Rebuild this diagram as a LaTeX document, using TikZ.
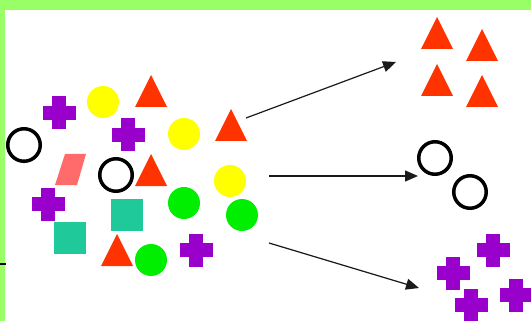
\documentclass[tikz,border=0pt]{standalone}
\usepackage{tikz}
\usetikzlibrary{arrows.meta}
\definecolor{frame}{HTML}{99FF66}
\definecolor{violet}{HTML}{9900CC}
\definecolor{sun}{HTML}{FFFF00}
\definecolor{flame}{HTML}{FF3300}
\definecolor{leaf}{HTML}{00EE00}
\definecolor{sea}{HTML}{1FC99A}
\definecolor{salmon}{HTML}{FF6B6B}
\definecolor{ink}{HTML}{1A1A1A}
\tikzset{
  ring/.style   = {circle, draw=black, line width=3.5pt, minimum size=32.5pt,
                   inner sep=0pt},
  dot/.style    = {circle, fill=#1, minimum size=32pt, inner sep=0pt},
  block/.style  = {rectangle, fill=sea, minimum size=32pt, inner sep=0pt},
  tri/.pic      = {\fill[flame] (-16,16) -- (0,-16) -- (16,16) -- cycle;},
  plus/.pic     = {\fill[violet] (-7,-16.5) rectangle (7,16.5);
                   \fill[violet] (-16.5,-7) rectangle (16.5,7);},
  ar/.style     = {-{Triangle[length=13pt,width=11pt]}, line width=1.2pt, draw=ink},
}

\begin{document}
\begin{tikzpicture}[x=1pt, y=-1pt]

  \useasboundingbox (0,0) rectangle (531,321);
  \fill[white] (0,0) rectangle (531,321);
  \fill[frame] (0,0) rectangle (531,10);
  \fill[frame] (0,0) rectangle (5,321);
  \draw[black, line width=1.5pt] (0,264) -- (6,264);

  % mixed group
  \pic (p1) at (59,113) {plus};
  \pic (p2) at (128,135) {plus};
  \pic (p3) at (48,204) {plus};
  \pic (p4) at (196,250) {plus};
  \node[dot=sun] (y1) at (103,102) {};
  \node[dot=sun] (y2) at (184,134) {};
  \node[dot=sun] (y3) at (230,181) {};
  \node[dot=leaf] (g1) at (184,203) {};
  \node[dot=leaf] (g2) at (242,215) {};
  \node[dot=leaf] (g3) at (151,260) {};
  \node[ring] (r1) at (24,145) {};
  \node[ring] (r2) at (116,175) {};
  \node[block] (s1) at (127,215) {};
  \node[block] (s2) at (70,238) {};
  \pic (t1) at (151,91) {tri};
  \pic (t2) at (231,125) {tri};
  \pic (t3) at (151,170) {tri};
  \pic (t4) at (117,250) {tri};
  \fill[salmon] (55,185) -- (65,154) -- (86,154) -- (77,185) -- cycle;

  % sorted groups
  \pic (t5) at (437,33) {tri};
  \pic (t6) at (482,45) {tri};
  \pic (t7) at (437,80) {tri};
  \pic (t8) at (482,91) {tri};
  \node[ring] (r3) at (435,158) {};
  \node[ring] (r4) at (470,192) {};
  \pic (p5) at (493,250) {plus};
  \pic (p6) at (453,273) {plus};
  \pic (p7) at (471,305) {plus};
  \pic (p8) at (516,295) {plus};

  \coordinate (fromtri) at (246,118);
  \coordinate (fromring) at (269,176);
  \coordinate (fromplus) at (269,243);
  \coordinate (totri) at (396,62);
  \coordinate (toring) at (418,176);
  \coordinate (toplus) at (419,288);

  \draw[ar] (fromtri) -- (totri);
  \draw[ar] (fromring) -- (toring);
  \draw[ar] (fromplus) -- (toplus);

\end{tikzpicture}
\end{document}
